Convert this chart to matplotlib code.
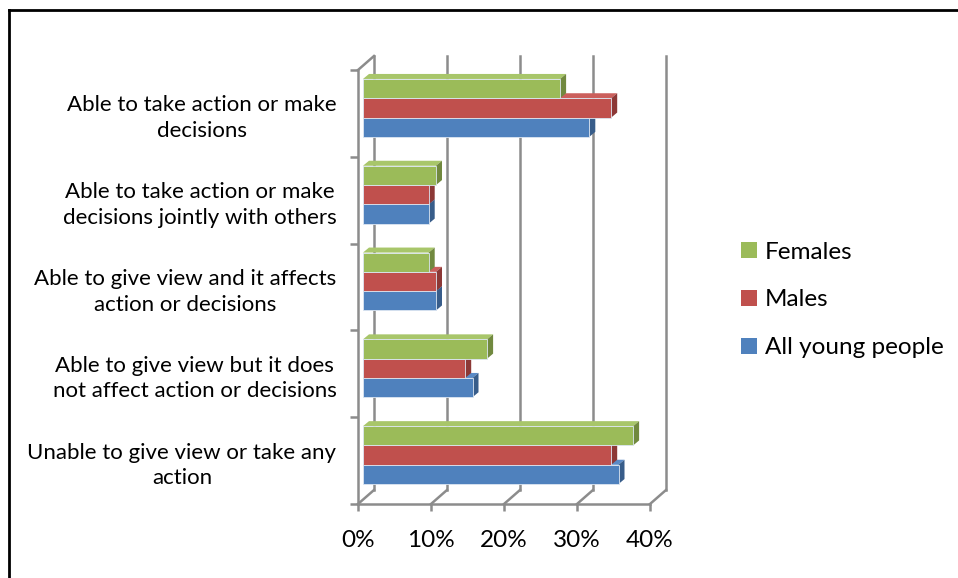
import matplotlib
matplotlib.use("Agg")
import matplotlib.pyplot as plt
import numpy as np
from matplotlib.patches import Polygon, Patch
from matplotlib.lines import Line2D

plt.rcParams['font.family'] = ['Lato', 'DejaVu Sans']

# === data ===
categories = [
    "Unable to give view or take any\naction",
    "Able to give view but it does\nnot affect action or decisions",
    "Able to give view and it affects\naction or decisions",
    "Able to take action or make\ndecisions jointly with others",
    "Able to take action or make\ndecisions",
]
series_names = ["All young people", "Males", "Females"]
all_young = [0.35, 0.15, 0.10, 0.09, 0.31]
males = [0.34, 0.14, 0.10, 0.09, 0.34]
females = [0.37, 0.17, 0.09, 0.10, 0.27]
x_ticks = [0.0, 0.1, 0.2, 0.3, 0.4]
x_tick_labels = ["0%", "10%", "20%", "30%", "40%"]

front = ["#4F81BD", "#C0504D", "#9BBB59"]
side = ["#385D8A", "#8C3836", "#71893F"]
top = ["#5A8AC6", "#CB5F5C", "#A8C66A"]
grid_c = "#8C8C8C"

W, H = 958, 578
fig = plt.figure(figsize=(W / 100, H / 100), dpi=100)
ax = fig.add_axes([358 / W, (H - 504) / H, (650 - 358) / W, (504 - 70) / H])
ax.set_xlim(0, 0.4)
ax.set_ylim(-0.5, len(categories) - 0.5)
ax.patch.set_alpha(0)
for s in ["top", "right"]:
    ax.spines[s].set_visible(False)
for s in ["left", "bottom"]:
    ax.spines[s].set_color(grid_c)
    ax.spines[s].set_linewidth(1.8)

ax.set_xticks(x_ticks)
ax.set_xticklabels(x_tick_labels, fontsize=17.5)
ax.tick_params(axis="x", length=5, width=1.8, color=grid_c, pad=14)
ax.set_yticks(np.arange(len(categories)))
ax.set_yticklabels(categories, fontsize=16)
ax.tick_params(axis="y", length=0, pad=15.5)
for lab in ax.get_yticklabels():
    lab.set_multialignment("center")
    lab.set_linespacing(1.35)
ax.set_yticks(np.arange(len(categories) + 1) - 0.5, minor=True)
ax.tick_params(axis="y", which="minor", length=6, width=1.8, color=grid_c)

fig.canvas.draw()


def px(x, y):
    return ax.transData.transform((x, y))


back = np.array([16, 14])      # depth of the back wall in pixels
bar_off = np.array([5, 5.5])   # bars sit slightly behind the front plane
depth = np.array([6, 5])       # depth of each bar

ymin, ymax = ax.get_ylim()
# back wall grid lines and floor diagonals
for xv in x_ticks:
    b0 = px(xv, ymin) + back
    b1 = px(xv, ymax) + back
    fig.add_artist(Line2D([b0[0], b1[0]], [b0[1], b1[1]], transform=None,
                          color=grid_c, lw=1.8, zorder=0.5))
    f0 = px(xv, ymin)
    fig.add_artist(Line2D([f0[0], b0[0]], [f0[1], b0[1]], transform=None,
                          color=grid_c, lw=1.8, zorder=0.5))
# left wall top edge
f1 = px(0, ymax)
b1 = f1 + back
fig.add_artist(Line2D([f1[0], b1[0]], [f1[1], b1[1]], transform=None,
                      color=grid_c, lw=1.8, zorder=0.5))

# bars
n = len(series_names)
bh = 0.667 / n
values = [all_young, males, females]
for i, vals in enumerate(values):
    for j, v in enumerate(vals):
        y0 = j - 0.667 / 2 + i * bh
        y1 = y0 + bh
        a = px(0, y0) + bar_off
        b = px(v, y0) + bar_off
        c = px(v, y1) + bar_off
        d = px(0, y1) + bar_off
        fig.add_artist(Polygon([d, c, c + depth, d + depth], closed=True, transform=None,
                               facecolor=top[i], edgecolor="none", zorder=2))
        fig.add_artist(Polygon([b, b + depth, c + depth, c], closed=True, transform=None,
                               facecolor=side[i], edgecolor="none", zorder=2))
        fig.add_artist(Polygon([a, b, c, d], closed=True, transform=None,
                               facecolor=front[i], edgecolor="#DCE6F2", lw=0.6, zorder=2))

# legend
handles = [Patch(facecolor=front[i], edgecolor="none", label=series_names[i]) for i in [2, 1, 0]]
fig.legend(handles=handles, loc="center left", bbox_to_anchor=(719 / W, 1 - 300 / H),
           frameon=False, fontsize=17.5, handlelength=0.65, handleheight=0.65,
           handletextpad=0.35, labelspacing=1.1)

# outer frame (cropped on right and bottom)
fig.add_artist(Line2D([8.5 / W, 8.5 / W], [0, 1 - 10 / H], color="black", lw=2))
fig.add_artist(Line2D([8.5 / W, 1], [1 - 10 / H, 1 - 10 / H], color="black", lw=2))

fig.savefig("out.png", dpi=100)
